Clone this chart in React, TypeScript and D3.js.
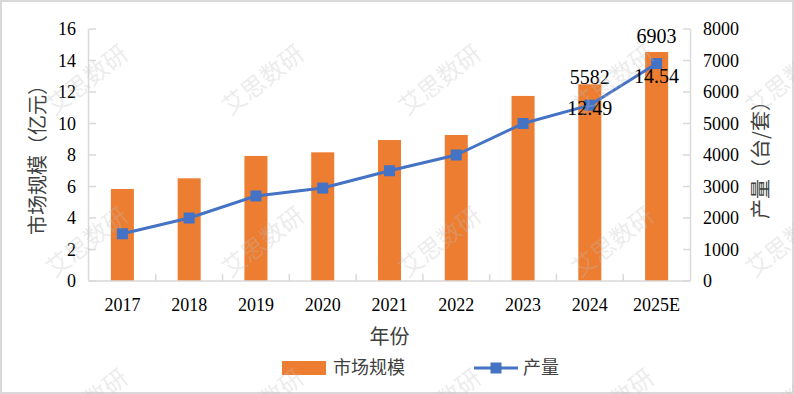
import React from 'react';
import * as d3 from 'd3';

const years = ['2017', '2018', '2019', '2020', '2021', '2022', '2023', '2024', '2025E'];
const marketSize = [5.84, 6.52, 7.94, 8.17, 8.95, 9.27, 11.75, 12.49, 14.54];
const output = [1500, 2000, 2700, 2950, 3500, 4000, 5000, 5582, 6903];
const leftTicks = [0, 2, 4, 6, 8, 10, 12, 14, 16];
const rightTicks = [0, 1000, 2000, 3000, 4000, 5000, 6000, 7000, 8000];
const labelledIdx = [7, 8];

const W = 794;
const H = 394;
const margin = { top: 29, right: 104, bottom: 113, left: 89 };

const ORANGE = '#ED7D31';
const BLUE = '#4472C4';
const AXIS = '#D9D9D9';
const SERIF = '"Liberation Serif", "Times New Roman", serif';
const CJK = '"Noto Sans CJK SC", "Noto Sans", sans-serif';

const App: React.FC = () => {
  const x0 = margin.left;
  const x1 = W - margin.right;
  const y0 = H - margin.bottom;
  const y1 = margin.top;

  const x = d3.scaleBand<string>()
    .domain(years)
    .range([x0, x1])
    .paddingInner(0.655)
    .paddingOuter(0.3275);
  const step = x.step();
  const center = (d: string) => (x(d) || 0) + x.bandwidth() / 2;

  const yL = d3.scaleLinear().domain([0, 16]).range([y0, y1]);
  const yR = d3.scaleLinear().domain([0, 8000]).range([y0, y1]);

  const line = d3.line<number>()
    .x((_, i) => center(years[i]))
    .y(d => yR(d));

  // watermark grid
  const wmX = [87, 263, 440, 613, 787];
  const wmY = [80, 242, 404];

  return (
    <svg width={W} height={H} style={{ position: 'absolute', left: 0, top: 0, background: '#fff' }}>
      <rect x={1} y={1} width={W - 2} height={H - 2} fill="#fff" stroke={AXIS} strokeWidth={2} />

      {/* bars */}
      {years.map((d, i) => (
        <rect key={d} x={x(d)} y={yL(marketSize[i])} width={x.bandwidth()}
          height={y0 - yL(marketSize[i])} fill={ORANGE} />
      ))}

      {/* axes */}
      <line x1={x0 - 0.5} x2={x0 - 0.5} y1={y1} y2={y0} stroke={AXIS} strokeWidth={1.5} />
      <line x1={x1 + 0.5} x2={x1 + 0.5} y1={y1} y2={y0} stroke={AXIS} strokeWidth={1.5} />
      <line x1={x0 - 0.5} x2={x1 + 0.5} y1={y0} y2={y0} stroke={AXIS} strokeWidth={1.5} />
      {leftTicks.map(t => (
        <g key={'l' + t}>
          <line x1={x0} x2={x0 + 7} y1={yL(t)} y2={yL(t)} stroke={AXIS} strokeWidth={1.5} />
          <text x={x0 - 13} y={yL(t)} dy="0.35em" textAnchor="end" fontFamily={SERIF} fontSize={18} fill="#000">{t}</text>
        </g>
      ))}
      {rightTicks.map(t => (
        <g key={'r' + t}>
          <line x1={x1 - 7} x2={x1} y1={yR(t)} y2={yR(t)} stroke={AXIS} strokeWidth={1.5} />
          <text x={x1 + 13} y={yR(t)} dy="0.35em" textAnchor="start" fontFamily={SERIF} fontSize={18} fill="#000">{t}</text>
        </g>
      ))}
      {years.slice(1).map(d => (
        <line key={'t' + d} x1={x(d)! - (step - x.bandwidth()) / 2} x2={x(d)! - (step - x.bandwidth()) / 2}
          y1={y0} y2={y0 - 7} stroke={AXIS} strokeWidth={1.5} />
      ))}
      {years.map(d => (
        <text key={'x' + d} x={center(d)} y={y0 + 30} textAnchor="middle" fontFamily={SERIF} fontSize={18} fill="#000">{d}</text>
      ))}

      {/* axis titles */}
      <text transform={`translate(38,${(y0 + y1) / 2}) rotate(-90)`} textAnchor="middle" dy="0.35em"
        fontFamily={CJK} fontSize={20} fill="#404040">市场规模（亿元）</text>
      <text transform={`translate(761,${(y0 + y1) / 2}) rotate(-90)`} textAnchor="middle" dy="0.35em"
        fontFamily={CJK} fontSize={20} fill="#404040">产量（台/套）</text>
      <text x={(x0 + x1) / 2} y={y0 + 56} dy="0.35em" textAnchor="middle" fontFamily={CJK} fontSize={20} fill="#404040">年份</text>

      {/* line series */}
      <path d={line(output) || ''} fill="none" stroke={BLUE} strokeWidth={3} strokeLinejoin="round" />
      {output.map((v, i) => (
        <rect key={'m' + i} x={center(years[i]) - 5.5} y={yR(v) - 5.5} width={11} height={11} fill={BLUE} />
      ))}

      {/* data labels */}
      {labelledIdx.map(i => (
        <g key={'lab' + i}>
          <text x={center(years[i])} y={yR(output[i]) - 21} textAnchor="middle" fontFamily={SERIF} fontSize={20} fill="#000">{output[i]}</text>
          <text x={center(years[i])} y={yL(marketSize[i]) + 31} textAnchor="middle" fontFamily={SERIF} fontSize={20} fill="#000">{marketSize[i].toFixed(2)}</text>
        </g>
      ))}

      {/* legend */}
      <rect x={282} y={361} width={44} height={14} fill={ORANGE} />
      <text x={333} y={368} dy="0.35em" fontFamily={CJK} fontSize={18} fill="#404040">市场规模</text>
      <line x1={474} x2={518} y1={368} y2={368} stroke={BLUE} strokeWidth={3} />
      <rect x={490.5} y={362.5} width={11} height={11} fill={BLUE} />
      <text x={523} y={368} dy="0.35em" fontFamily={CJK} fontSize={18} fill="#404040">产量</text>

      {/* watermarks */}
      {wmY.map(wy => wmX.map(wx => (
        <text key={`w${wx}-${wy}`} transform={`translate(${wx},${wy}) rotate(-38)`} textAnchor="middle" dy="0.35em"
          fontFamily={CJK} fontSize={24} fill="rgba(190,190,190,0.3)">艾思数研</text>
      )))}
    </svg>
  );
};

export default App;
